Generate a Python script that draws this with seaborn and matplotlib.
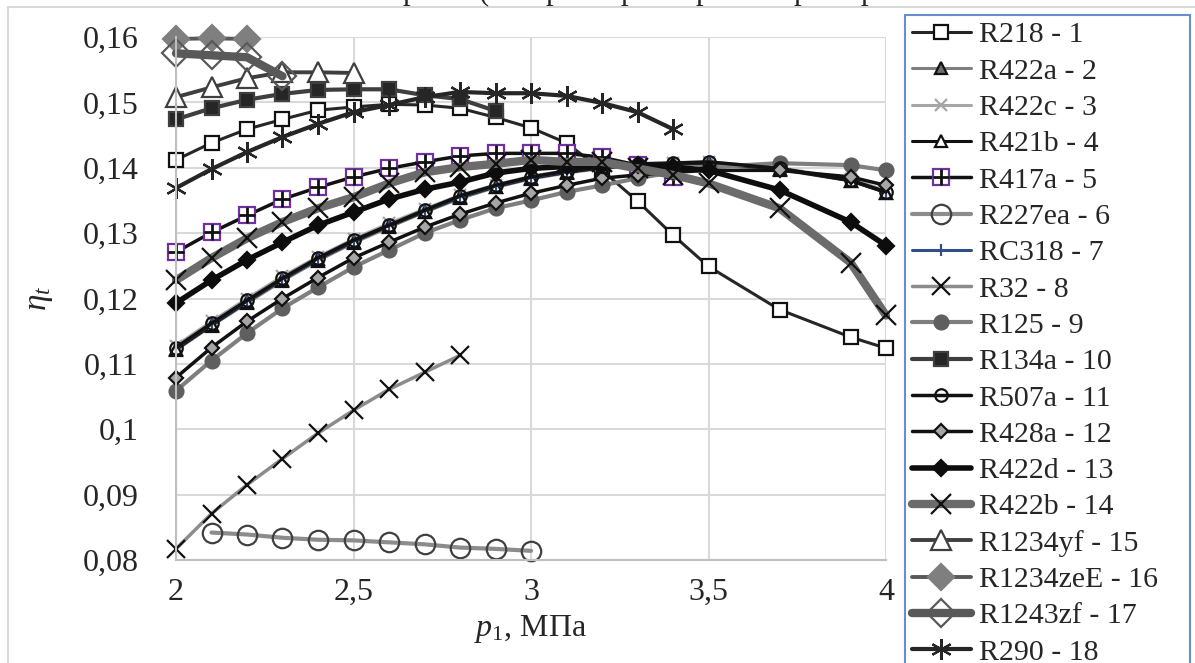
import matplotlib
matplotlib.use('Agg')
import matplotlib.pyplot as plt
import seaborn as sns
from matplotlib.legend_handler import HandlerTuple
from matplotlib.patches import Rectangle
from matplotlib.ticker import FuncFormatter

# pressure grid, MPa
p_long = [2.0, 2.1, 2.2, 2.3, 2.4, 2.5, 2.6, 2.7, 2.8, 2.9, 3.0, 3.1,
          3.2, 3.3, 3.4, 3.5, 3.7, 3.9, 4.0]
p_r134a = [2.0, 2.1, 2.2, 2.3, 2.4, 2.5, 2.6, 2.7, 2.8, 2.9]
p_r290 = [2.0, 2.1, 2.2, 2.3, 2.4, 2.5, 2.6, 2.7, 2.8, 2.9, 3.0, 3.1,
          3.2, 3.3, 3.4]
p_r417a = p_r290
p_r32 = [2.0, 2.1, 2.2, 2.3, 2.4, 2.5, 2.6, 2.7, 2.8]
p_r227ea = [2.1, 2.2, 2.3, 2.4, 2.5, 2.6, 2.7, 2.8, 2.9, 3.0]
p_r1234yf = [2.0, 2.1, 2.2, 2.3, 2.4, 2.5]
p_r1234ze = [2.0, 2.1, 2.2]
p_r1243zf = [2.0, 2.1, 2.2, 2.3]

# thermal efficiency
eta_r218 = [0.1412, 0.1438, 0.1459, 0.1474, 0.1488, 0.1493, 0.1497, 0.1496,
            0.1491, 0.1477, 0.1461, 0.1438, 0.1396, 0.1349, 0.1297, 0.1249,
            0.1183, 0.1141, 0.1124]
eta_r422a = [0.1121, 0.1158, 0.1193, 0.1227, 0.1258, 0.1285, 0.1309, 0.1332,
             0.1353, 0.1370, 0.1383, 0.1392, 0.1399, 0.1403, 0.1404, 0.1405,
             0.1397, 0.1380, 0.1362]
eta_r422c = [0.1128, 0.1165, 0.1200, 0.1234, 0.1264, 0.1291, 0.1315, 0.1337,
             0.1358, 0.1374, 0.1387, 0.1396, 0.1402, 0.1406, 0.1408, 0.1409,
             0.1400, 0.1383, 0.1365]
eta_r421b = [0.1122, 0.1159, 0.1195, 0.1229, 0.1260, 0.1287, 0.1311, 0.1333,
             0.1355, 0.1371, 0.1384, 0.1393, 0.1400, 0.1404, 0.1406, 0.1407,
             0.1398, 0.1380, 0.1362]
eta_r417a = [0.1271, 0.1301, 0.1327, 0.1352, 0.1370, 0.1386, 0.1399, 0.1409,
             0.1418, 0.1422, 0.1422, 0.1422, 0.1416, 0.1404, 0.1386]
eta_r227ea = [0.0842, 0.0839, 0.0834, 0.0831, 0.0830, 0.0827, 0.0824, 0.0819,
              0.0817, 0.0814]
eta_rc318 = [0.1124, 0.1161, 0.1196, 0.1230, 0.1261, 0.1288, 0.1312, 0.1334,
             0.1356, 0.1372, 0.1385, 0.1394, 0.1401, 0.1405, 0.1407, 0.1408,
             0.1399, 0.1381, 0.1363]
eta_r32 = [0.0817, 0.0871, 0.0915, 0.0955, 0.0994, 0.1029, 0.1061, 0.1087,
           0.1113]
eta_r125 = [0.1059, 0.1105, 0.1147, 0.1185, 0.1217, 0.1248, 0.1274, 0.1300,
            0.1320, 0.1338, 0.1350, 0.1363, 0.1373, 0.1384, 0.1393, 0.1401,
            0.1407, 0.1404, 0.1396]
eta_r134a = [0.1474, 0.1491, 0.1504, 0.1513, 0.1519, 0.1520, 0.1520, 0.1511,
             0.1505, 0.1487]
eta_r507a = [0.1125, 0.1162, 0.1197, 0.1231, 0.1262, 0.1289, 0.1312, 0.1335,
             0.1357, 0.1373, 0.1386, 0.1395, 0.1401, 0.1406, 0.1407, 0.1409,
             0.1399, 0.1381, 0.1363]
eta_r428a = [0.1079, 0.1125, 0.1165, 0.1200, 0.1232, 0.1262, 0.1286, 0.1309,
             0.1329, 0.1346, 0.1361, 0.1373, 0.1384, 0.1389, 0.1393, 0.1396,
             0.1396, 0.1386, 0.1373]
eta_r422d = [0.1193, 0.1228, 0.1259, 0.1286, 0.1312, 0.1332, 0.1352, 0.1367,
             0.1378, 0.1392, 0.1399, 0.1402, 0.1404, 0.1404, 0.1401, 0.1396,
             0.1366, 0.1317, 0.1281]
eta_r422b = [0.1228, 0.1262, 0.1292, 0.1317, 0.1338, 0.1355, 0.1376, 0.1393,
             0.1401, 0.1406, 0.1412, 0.1409, 0.1409, 0.1399, 0.1389, 0.1376,
             0.1338, 0.1255, 0.1174]
eta_r1234yf = [0.1508, 0.1523, 0.1537, 0.1546, 0.1546, 0.1545]
eta_r1234ze = [0.1597, 0.1598, 0.1597]
eta_r1243zf = [0.1575, 0.1572, 0.1569, 0.1540]
eta_r290 = [0.1369, 0.1398, 0.1424, 0.1447, 0.1467, 0.1485, 0.1496, 0.1508,
            0.1516, 0.1514, 0.1514, 0.1510, 0.1499, 0.1485, 0.1459]

sns.set_style('white')
plt.rcParams['font.family'] = ['Liberation Serif', 'DejaVu Serif']
plt.rcParams['mathtext.fontset'] = 'custom'
plt.rcParams['mathtext.it'] = 'Liberation Serif:italic'
plt.rcParams['mathtext.rm'] = 'Liberation Serif'

fig = plt.figure(figsize=(11.95, 6.63), dpi=100)
ax = fig.add_axes([176 / 1195, 1 - 560 / 663, 710 / 1195, 523 / 663])

asterisk = (6, 2, 0)
series = [
    # x, y, label, line colour, lw, marker, size, face, edge
    (p_long, eta_r218, 'R218 - 1', '#262626', 2.2, 's', 10, 'white', '#111111'),
    (p_long, eta_r422a, 'R422a - 2', '#7f7f7f', 2.2, '^', 8, '#6e6e6e', '#111111'),
    (p_long, eta_r422c, 'R422c - 3', '#a6a6a6', 2.2, 'x', 8, '#a6a6a6', '#a6a6a6'),
    (p_long, eta_r421b, 'R421b - 4', '#111111', 2.2, '^', 8, 'white', '#111111'),
    (p_r417a, eta_r417a, 'R417a - 5', '#111111', 2.5, 's', 11, 'white', '#7030a0'),
    (p_r227ea, eta_r227ea, 'R227ea - 6', '#8c8c8c', 3.0, 'o', 14, 'none', '#404040'),
    (p_long, eta_rc318, 'RC318 - 7', '#2f4f86', 2.2, '|', 8, '#2f4f86', '#2f4f86'),
    (p_r32, eta_r32, 'R32 - 8', '#8c8c8c', 2.5, 'x', 13, '#111111', '#111111'),
    (p_long, eta_r125, 'R125 - 9', '#7f7f7f', 3.0, 'o', 10, '#5f5f5f', '#5f5f5f'),
    (p_r134a, eta_r134a, 'R134a - 10', '#3f3f3f', 3.0, 's', 10, '#262626', '#3f3f3f'),
    (p_long, eta_r507a, 'R507a - 11', '#111111', 2.5, 'o', 9, 'none', '#111111'),
    (p_long, eta_r428a, 'R428a - 12', '#111111', 2.5, 'D', 7, '#a6a6a6', '#111111'),
    (p_long, eta_r422d, 'R422d - 13', '#0d0d0d', 4.0, 'D', 8, '#0d0d0d', '#0d0d0d'),
    (p_long, eta_r422b, 'R422b - 14', '#6b6b6b', 6.0, 'x', 15, '#111111', '#111111'),
    (p_r1234yf, eta_r1234yf, 'R1234yf - 15', '#3f3f3f', 2.8, '^', 15, 'white', '#3f3f3f'),
    (p_r1234ze, eta_r1234ze, 'R1234zeE - 16', '#595959', 2.8, 'D', 13, '#7f7f7f', '#7f7f7f'),
    (p_r1243zf, eta_r1243zf, 'R1243zf - 17', '#595959', 6.0, 'D', 14, 'none', '#595959'),
    (p_r290, eta_r290, 'R290 - 18', '#262626', 3.0, asterisk, 15, '#262626', '#262626'),
]

for x, y, label, color, lw, marker, ms, face, edge in series:
    sns.lineplot(x=x, y=y, ax=ax, sort=False, color=color, linewidth=lw,
                 marker=marker, markersize=ms, markerfacecolor=face,
                 markeredgecolor=edge, markeredgewidth=1.6, label=label,
                 clip_on=False)
    if label.startswith('R417a'):
        plus = ax.plot(x, y, linestyle='none', marker='+', markersize=11,
                       markeredgewidth=2, color='#111111', clip_on=False)[0]

ax.set_xlim(2, 4)
ax.set_ylim(0.08, 0.16)
ax.set_xticks([2, 2.5, 3, 3.5, 4])
ax.set_yticks([0.08, 0.09, 0.10, 0.11, 0.12, 0.13, 0.14, 0.15, 0.16])
comma = FuncFormatter(lambda v, pos: f'{v:g}'.replace('.', ','))
ax.xaxis.set_major_formatter(comma)
ax.yaxis.set_major_formatter(comma)
ax.tick_params(axis='both', labelsize=23, length=0)
ax.tick_params(axis='x', pad=13)
ax.tick_params(axis='y', pad=27)
ax.grid(True, color='#d9d9d9', linewidth=1.5)
for side in ['top', 'right']:
    ax.spines[side].set_visible(False)
for side in ['left', 'bottom']:
    ax.spines[side].set_color('#bfbfbf')
    ax.spines[side].set_linewidth(1.5)

ax.set_xlabel(r'$p_{\mathit{1}}$, МПа', fontsize=23, labelpad=4)
ax.set_ylabel(r'$\eta_{t}$', fontsize=24, labelpad=20)

handles, labels = ax.get_legend_handles_labels()
ax.get_legend().remove()
idx = labels.index('R417a - 5')
handles[idx] = (handles[idx], plus)
leg = fig.legend(handles, labels, loc='upper left',
                 bbox_to_anchor=(905 / 1195, 0, 285 / 1195, 1 - 15 / 663), mode='expand',
                 fontsize=21.5, frameon=True, fancybox=False, edgecolor='#4472c4',
                 handlelength=2.0, handletextpad=0.25, labelspacing=0.315,
                 borderpad=0.22, borderaxespad=0,
                 handler_map={tuple: HandlerTuple(ndivide=1, pad=0)})
leg.get_frame().set_linewidth(1.5)

# chart area border (partly outside the picture)
fig.patches.append(Rectangle((8 / 1195, -0.5), 2, 1.5 - 7 / 663, transform=fig.transFigure,
                             fill=False, edgecolor='#d9d9d9', linewidth=1.5))

# title, cut off by the top edge of the picture
for xpos, ch in [(410, 'р'), (484, '('), (553, 'р'), (628, 'р'), (703, 'р'), (801, 'р'), (868, 'р')]:
    fig.text(xpos / 1195, 1 + 1 / 663, ch, fontsize=22, ha='center', va='baseline')

fig.savefig('out.png', dpi=100)
